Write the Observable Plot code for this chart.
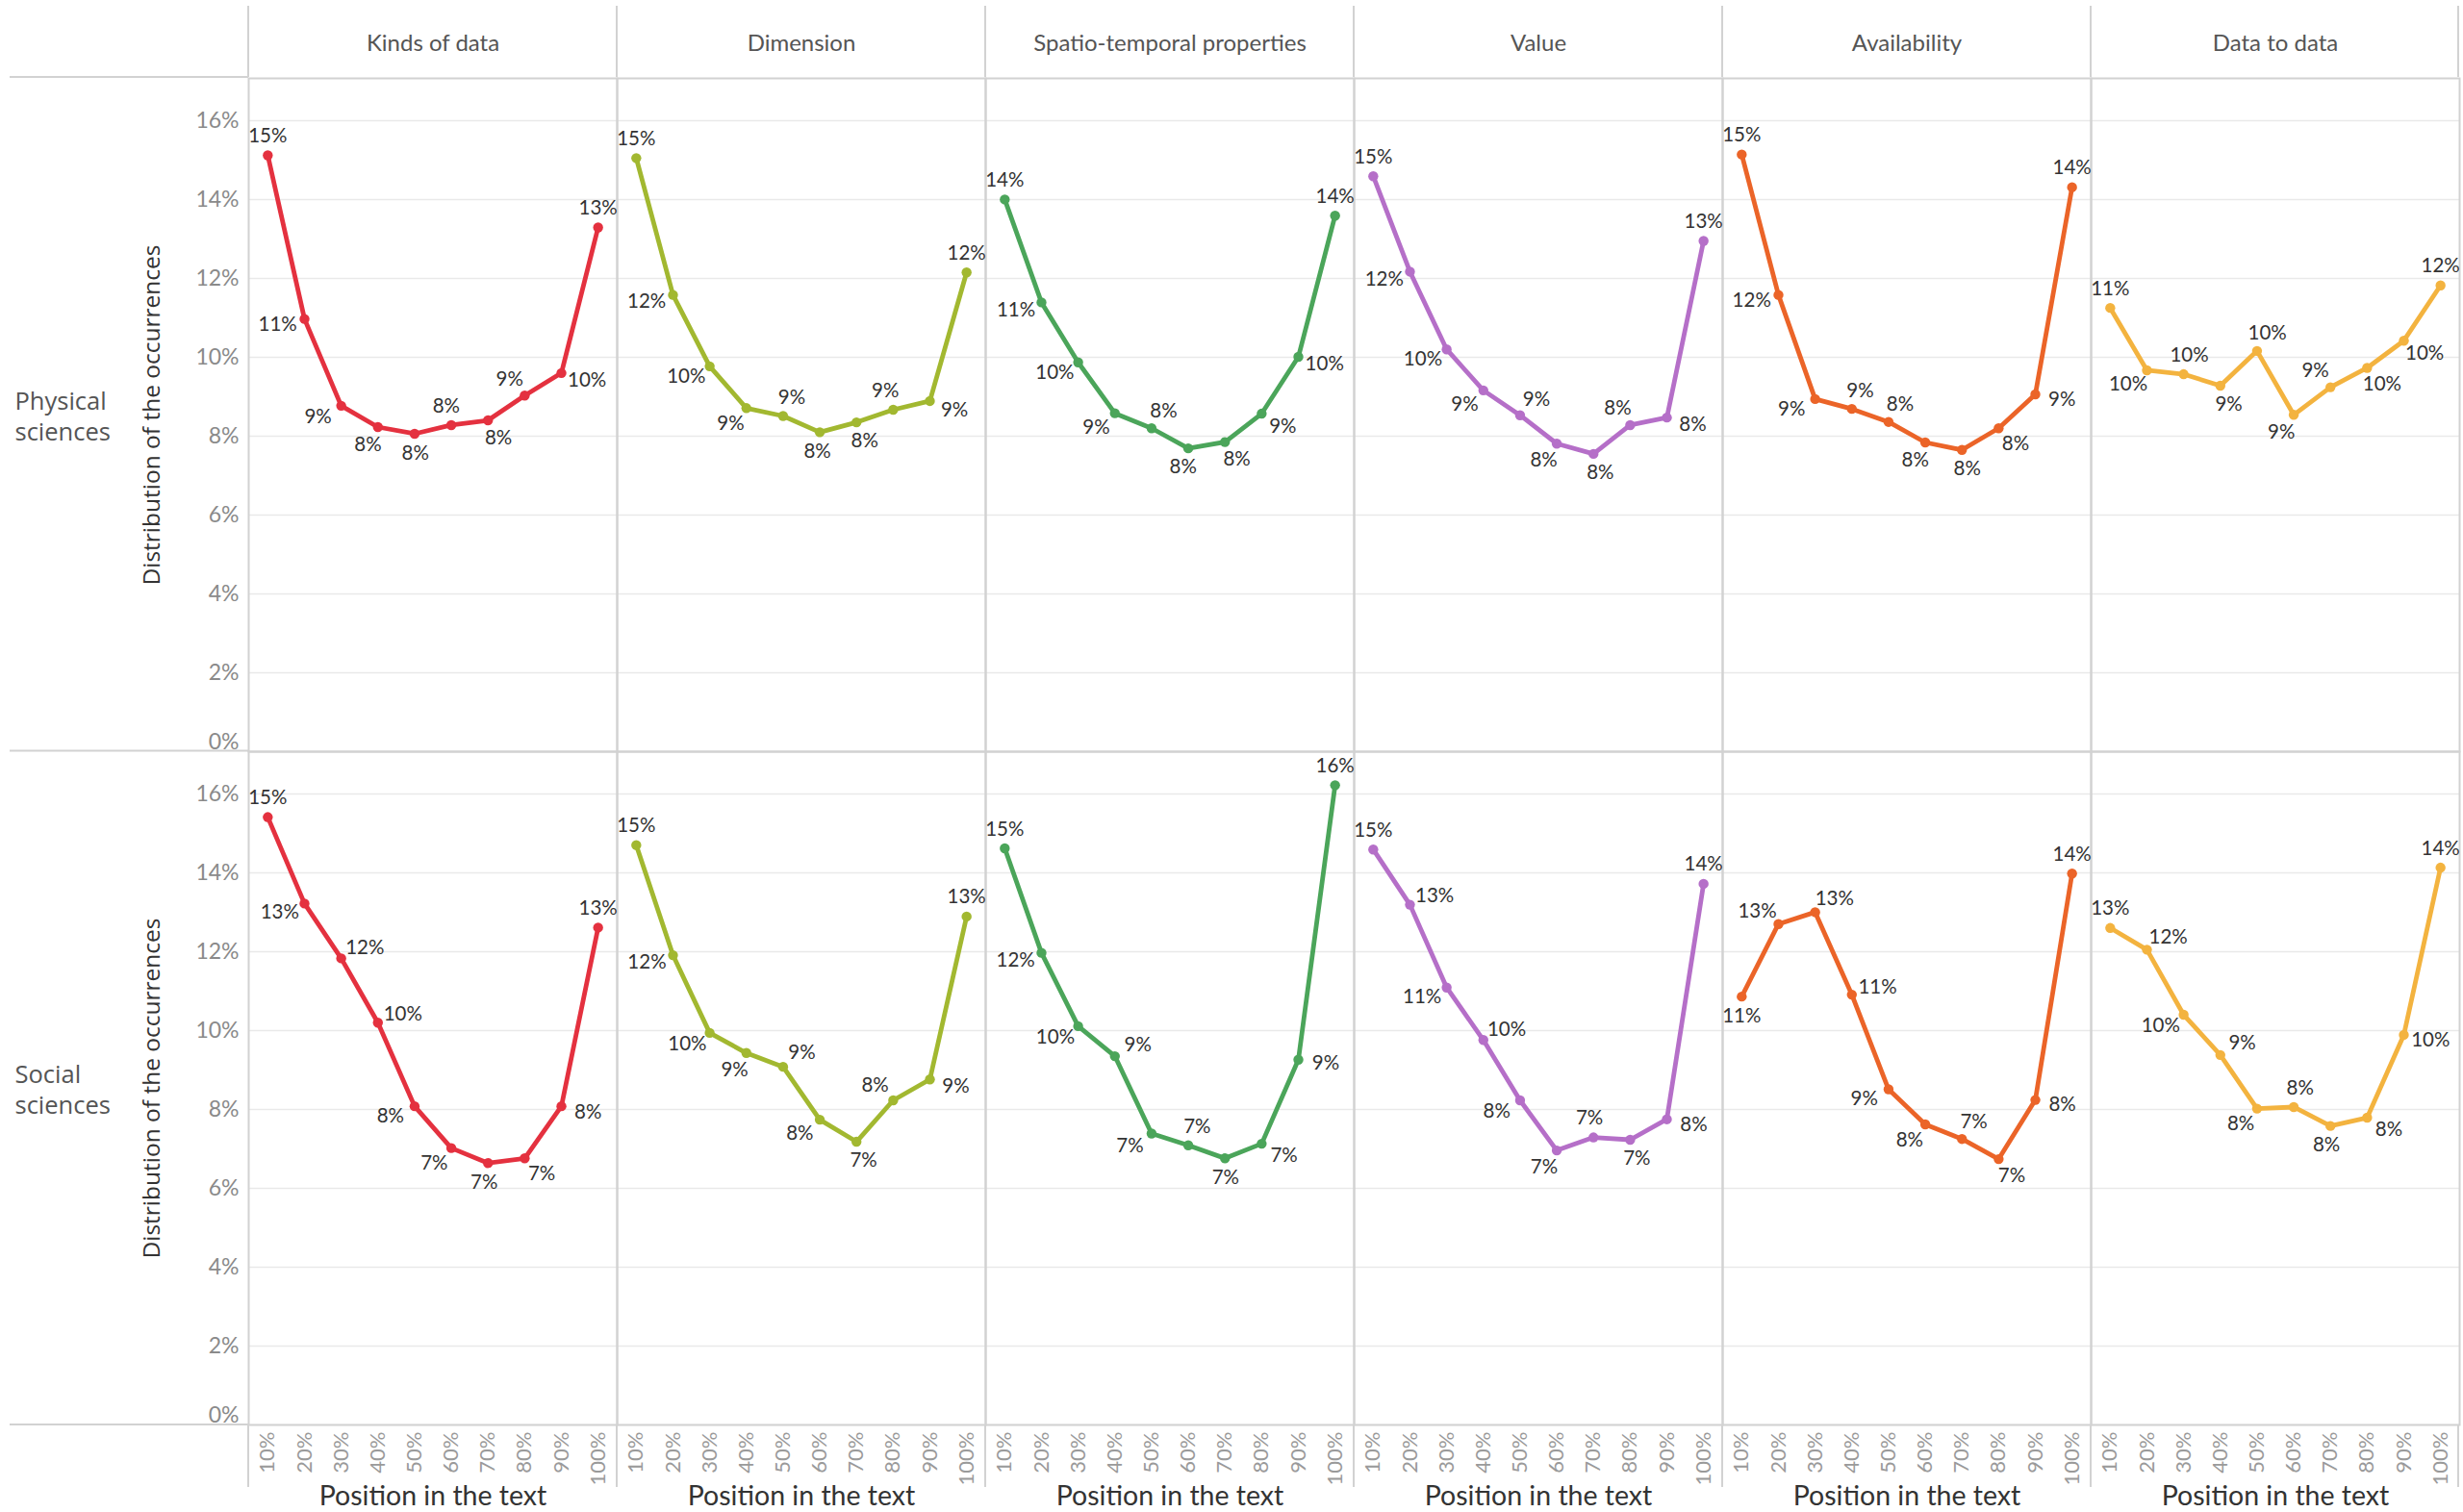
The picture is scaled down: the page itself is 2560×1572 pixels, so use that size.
<!DOCTYPE html>
<html>
<head>
<meta charset="utf-8">
<script src="https://cdn.jsdelivr.net/npm/d3@7"></script>
<script src="https://cdn.jsdelivr.net/npm/@observablehq/plot@0.6"></script>
<style>
html, body { margin: 0; padding: 0; background: #fff; }
#chart { width: 2560px; height: 1572px; }
</style>
</head>
<body>
<div id="chart"></div>
<script>
// ---------- data ----------
const positions = ["10%", "20%", "30%", "40%", "50%", "60%", "70%", "80%", "90%", "100%"];
const categories = ["Kinds of data", "Dimension", "Spatio-temporal properties", "Value", "Availability", "Data to data"];
const rows = ["Physical sciences", "Social sciences"];
const rowLabels = ["Physical\nsciences", "Social\nsciences"];
const colors = ["#e4313f", "#a2b830", "#4ba55a", "#b56fc8", "#eb6428", "#f3b33f"];
const yTicks = [0, 2, 4, 6, 8, 10, 12, 14, 16];

const physKinds        = [15.12, 10.97, 8.77, 8.23, 8.06, 8.28, 8.40, 9.03, 9.60, 13.29];
const physDimension    = [15.05, 11.58, 9.77, 8.71, 8.51, 8.10, 8.35, 8.67, 8.89, 12.15];
const physSpatio       = [14.00, 11.39, 9.87, 8.58, 8.20, 7.69, 7.85, 8.57, 10.01, 13.59];
const physValue        = [14.59, 12.17, 10.20, 9.16, 8.53, 7.81, 7.55, 8.28, 8.47, 12.95];
const physAvailability = [15.14, 11.58, 8.94, 8.69, 8.36, 7.84, 7.65, 8.20, 9.06, 14.31];
const physDataToData   = [11.25, 9.67, 9.57, 9.28, 10.16, 8.54, 9.24, 9.73, 10.42, 11.82];

const socKinds         = [15.41, 13.22, 11.83, 10.20, 8.08, 7.02, 6.64, 6.76, 8.08, 12.61];
const socDimension     = [14.70, 11.91, 9.94, 9.43, 9.08, 7.74, 7.18, 8.23, 8.76, 12.89];
const socSpatio        = [14.62, 11.97, 10.11, 9.35, 7.39, 7.09, 6.76, 7.13, 9.26, 16.22];
const socValue         = [14.59, 13.19, 11.09, 9.76, 8.23, 6.96, 7.29, 7.23, 7.75, 13.72];
const socAvailability  = [10.86, 12.70, 13.00, 10.91, 8.51, 7.62, 7.25, 6.74, 8.24, 13.98];
const socDataToData    = [12.60, 12.05, 10.40, 9.38, 8.02, 8.06, 7.58, 7.79, 9.89, 14.13];

const physical = [physKinds, physDimension, physSpatio, physValue, physAvailability, physDataToData];
const social = [socKinds, socDimension, socSpatio, socValue, socAvailability, socDataToData];

// ---------- layout ----------
const W = 2560, H = 1572;
const mL = 258, mR = 4, mT = 80, mB = 91;
const yMax = 17.07;
const xDom = [0.48, 10.52];
const facetW = (W - mL - mR) / categories.length;
const facetH = (H - mT - mB) / rows.length;
const pxX = facetW / (xDom[1] - xDom[0]);
const pxY = facetH / yMax;
const rx = 29, ry = 20;

// ---------- table with label placement (outside of local curvature) ----------
const table = [];
[physical, social].forEach((series, r) => {
  series.forEach((vals, c) => {
    vals.forEach((v, i) => {
      let ox = 0, oy;
      if (i === 0) {
        oy = vals[1] > v ? ry : -ry;
      } else if (i === vals.length - 1) {
        oy = vals[i - 1] > v ? ry : -ry;
      } else {
        const d2 = vals[i - 1] + vals[i + 1] - 2 * v;
        const s = -(vals[i + 1] - vals[i - 1]) * pxY / (2 * pxX);
        let nx, ny;
        if (d2 >= 0) { nx = -s; ny = 1; } else { nx = s; ny = -1; }
        const n = Math.hypot(nx, ny);
        ox = nx / n * rx; oy = ny / n * ry;
      }
      table.push({
        row: rows[r], cat: categories[c], pos: i + 1, value: v,
        lx: i + 1 + ox / pxX, ly: v - oy / pxY
      });
    });
  });
});

const fxFirst = () => categories[0];

const chart = Plot.plot({
  width: W, height: H,
  marginLeft: mL, marginRight: mR, marginTop: mT, marginBottom: mB,
  style: { fontFamily: "Lato, sans-serif", background: "white", overflow: "visible" },
  fx: { domain: categories, padding: 0, label: null },
  fy: { domain: rows, padding: 0, label: null, axis: null },
  x: { domain: xDom, axis: null },
  y: { domain: [0, yMax], axis: null },
  color: { domain: categories, range: colors },
  marks: [
    Plot.gridY(yTicks, { stroke: "#e9e9e9", strokeOpacity: 1, strokeWidth: 1.5 }),
    Plot.frame({ stroke: "#d2d2d2", strokeWidth: 2 }),
    Plot.axisFx({ anchor: "top", tickSize: 0, tickPadding: 29, fontSize: 24, color: "#555", label: null }),
    Plot.axisY(yTicks.filter(d => d > 0), { tickSize: 0, tickPadding: 10, fontSize: 23, color: "#8a8a8a", tickFormat: d => d + "%", label: null }),
    Plot.axisY([0], { tickSize: 0, tickPadding: 10, fontSize: 23, color: "#8a8a8a", tickFormat: d => d + "%", label: null, lineAnchor: "bottom", dy: -3 }),
    Plot.axisX(d3.range(1, 11), { tickRotate: -90, tickSize: 0, tickPadding: 7, fontSize: 22, color: "#9a9a9a", tickFormat: d => positions[d - 1], label: null }),
    Plot.line(table, { x: "pos", y: "value", stroke: "cat", fx: "cat", fy: "row", strokeWidth: 4.8 }),
    Plot.dot(table, { x: "pos", y: "value", fill: "cat", r: 5.2, fx: "cat", fy: "row" }),
    Plot.text(table, { x: "lx", y: "ly", text: d => Math.round(d.value) + "%", fx: "cat", fy: "row", fontSize: 20.5, fill: "#333" }),
    Plot.text(rows, { fy: d => d, fx: fxFirst, text: (d, i) => rowLabels[i], frameAnchor: "left", dx: -243, textAnchor: "start", fontSize: 25.5, fill: "#555", fontFamily: "Open Sans", lineHeight: 1.25 }),
    Plot.text(rows, { fy: d => d, fx: fxFirst, text: () => "Distribution of the occurrences", rotate: -90, frameAnchor: "left", textAnchor: "middle", dx: -100, fontSize: 24.5, fill: "#333", fontFamily: "Open Sans" }),
    Plot.text(categories, { fx: d => d, fy: () => rows[1], text: () => "Position in the text", frameAnchor: "bottom", dy: 83, fontSize: 28.5, fill: "#333" })
  ]
});

document.getElementById("chart").appendChild(chart);

// structural border extensions (header / label gutters)
const svg = d3.select(chart);
const g = svg.append("g").attr("stroke", "#d2d2d2").attr("stroke-width", 2);
[mT, mT + facetH, H - mB].forEach(y => {
  g.append("line").attr("x1", 10).attr("x2", mL).attr("y1", y).attr("y2", y);
});
for (let i = 0; i <= categories.length; i++) {
  const x = mL + i * facetW - (i === categories.length ? 1 : 0);
  g.append("line").attr("x1", x).attr("x2", x).attr("y1", 6).attr("y2", mT);
  g.append("line").attr("x1", x).attr("x2", x).attr("y1", H - mB).attr("y2", H - 26);
}
</script>
</body>
</html>
